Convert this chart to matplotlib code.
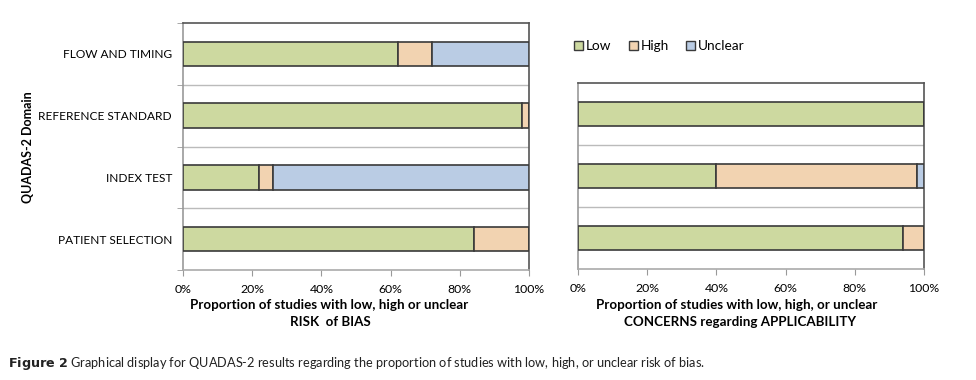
import matplotlib.pyplot as plt
from matplotlib.patches import Patch

plt.rcParams['font.family'] = ['Lato', 'DejaVu Sans']

# risk of bias (bottom to top)
bias_domains = ['PATIENT SELECTION', 'INDEX TEST', 'REFERENCE STANDARD', 'FLOW AND TIMING']
bias_low = [84, 22, 98, 62]
bias_high = [16, 4, 2, 10]
bias_unclear = [0, 74, 0, 28]

# applicability concerns (bottom to top)
appl_domains = ['PATIENT SELECTION', 'INDEX TEST', 'REFERENCE STANDARD']
appl_low = [94, 40, 100]
appl_high = [6, 58, 0]
appl_unclear = [0, 2, 0]

pct_ticks = [0, 20, 40, 60, 80, 100]
pct_labels = ['0%', '20%', '40%', '60%', '80%', '100%']

c_low = '#CDD9A0'
c_high = '#F2D3B1'
c_unclear = '#BACCE4'
edge = '#3a3a3a'

W, H = 976, 380
fig = plt.figure(figsize=(9.76, 3.8), dpi=100)
ax1 = fig.add_axes([183 / W, 1 - 270 / H, 346 / W, 247 / H])
ax2 = fig.add_axes([578 / W, 1 - 269 / H, 346 / W, 186 / H])


def stacked(ax, n, low, high, unclear):
    y = list(range(n))
    kw = dict(height=0.4, edgecolor=edge, linewidth=1.2, zorder=3)
    ax.barh(y, low, color=c_low, **kw)
    ax.barh(y, high, left=low, color=c_high, **kw)
    left2 = [a + b for a, b in zip(low, high)]
    ax.barh(y, unclear, left=left2, color=c_unclear, **kw)
    for k in range(n - 1):
        ax.axhline(k + 0.5, color='#bbbbbb', linewidth=1, zorder=1)
    ax.set_xlim(0, 100)
    ax.set_ylim(-0.5, n - 0.5)
    ax.set_xticks(pct_ticks)
    ax.set_xticklabels(pct_labels, fontsize=8.8)
    ax.tick_params(axis='x', length=4, color='#999999', pad=6)
    ax.spines['top'].set_color('#555555')
    ax.spines['right'].set_color('#555555')
    ax.spines['left'].set_color('#999999')
    ax.spines['bottom'].set_color('#aaaaaa')
    for s in ax.spines.values():
        s.set_linewidth(1.2)


stacked(ax1, 4, bias_low, bias_high, bias_unclear)
ax1.set_yticks(range(4))
ax1.set_yticklabels(bias_domains, fontsize=8.6)
ax1.tick_params(axis='y', which='major', length=0, pad=8)
ax1.set_yticks([k + 0.5 for k in range(-1, 4)], minor=True)
ax1.tick_params(axis='y', which='minor', length=4, color='#999999')

stacked(ax2, 3, appl_low, appl_high, appl_unclear)
ax2.set_yticks([])

fig.text(28 / W, 1 - 147 / H, 'QUADAS-2 Domain', rotation=90, ha='center', va='center',
         fontsize=9, fontweight='bold')

fig.text(329 / W, 1 - 305 / H, 'Proportion of studies with low, high or unclear',
         ha='center', va='center', fontsize=9.6, fontweight='bold')
fig.text(330 / W, 1 - 322 / H, 'RISK  of BIAS', ha='center', va='center',
         fontsize=9.6, fontweight='bold')
fig.text(737 / W, 1 - 305 / H, 'Proportion of studies with low, high, or unclear',
         ha='center', va='center', fontsize=9.6, fontweight='bold')
fig.text(740 / W, 1 - 322 / H, 'CONCERNS regarding APPLICABILITY', ha='center', va='center',
         fontsize=9.6, fontweight='bold')

handles = [Patch(facecolor=c_low, edgecolor=edge, label='Low'),
           Patch(facecolor=c_high, edgecolor=edge, label='High'),
           Patch(facecolor=c_unclear, edgecolor=edge, label='Unclear')]
fig.legend(handles=handles, loc='center left', bbox_to_anchor=(574 / W, 1 - 46 / H),
           ncol=3, frameon=False, fontsize=9.8, handlelength=0.65, handleheight=0.65,
           handletextpad=0.2, columnspacing=1.3, borderaxespad=0, borderpad=0)

fig.text(8 / W, 1 - 363 / H, r'$\bf{Figure\ 2}$ Graphical display for QUADAS-2 results regarding the '
         'proportion of studies with low, high, or unclear risk of bias.',
         ha='left', va='center', fontsize=9.2, color='#222222')

plt.savefig('out.png', dpi=100)
